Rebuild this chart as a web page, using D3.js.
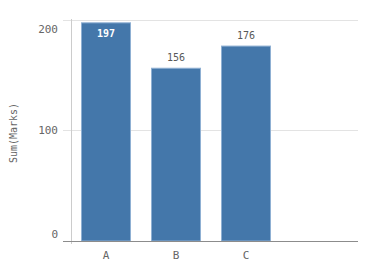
<!DOCTYPE html>
<meta charset="UTF-8">
<style>
body { margin: 0; background: #fff; }
text { font-family: "DejaVu Sans Mono", monospace; font-size: 10px; fill: #666; }
.grid line { stroke: #e3e3e3; }
</style>
<body>
<div class="chart"></div>
<script src="https://d3js.org/d3.v7.min.js"></script>
<script>
var categories = ["A", "B", "C"];
var marks = [197, 156, 176];
var yTicks = [0, 100, 200];

var width = 382, height = 280;
var svg = d3.select(".chart").append("svg")
  .attr("width", width).attr("height", height);

var y = d3.scaleLinear().domain([0, 200]).range([241, 19.5]);
var x = d3.scaleBand().domain(categories).range([71, 281])
  .paddingInner(0.3).paddingOuter(0.15);

// gridlines
svg.append("g").attr("class", "grid")
  .selectAll("line").data(yTicks.slice(1)).enter().append("line")
  .attr("x1", 63).attr("x2", 358)
  .attr("y1", function (d) { return Math.round(y(d)) + 0.5; })
  .attr("y2", function (d) { return Math.round(y(d)) + 0.5; });

// y axis line
svg.append("line")
  .attr("x1", 71.5).attr("x2", 71.5).attr("y1", 19).attr("y2", 244)
  .attr("stroke", "#cccccc");

// tick labels: end labels are nudged inside the plot
svg.append("g").selectAll("text").data(yTicks).enter().append("text")
  .attr("x", 58)
  .attr("y", function (d, i) {
    if (i === 0) return y(d) - 3;
    if (i === yTicks.length - 1) return y(d) + 13;
    return y(d) + 4;
  })
  .attr("text-anchor", "end")
  .style("font-size", "11px")
  .text(function (d) { return d; });

svg.append("text")
  .attr("transform", "translate(17,133) rotate(-90)")
  .attr("text-anchor", "middle")
  .style("font-size", "10px")
  .text("Sum(Marks)");

// bars
svg.append("g").selectAll("rect").data(marks).enter().append("rect")
  .attr("x", function (d, i) { return x(categories[i]); })
  .attr("width", x.bandwidth())
  .attr("y", function (d) { return y(d); })
  .attr("height", function (d) { return y(0) - y(d); })
  .attr("fill", "#4477aa")
  .attr("stroke", "#8fb0d3")
  .attr("stroke-width", 1);

// baseline
svg.append("line")
  .attr("x1", 63).attr("x2", 358).attr("y1", 241.5).attr("y2", 241.5)
  .attr("stroke", "#8c8c8c");

// x labels
svg.append("g").selectAll("text").data(categories).enter().append("text")
  .attr("x", function (d) { return x(d) + x.bandwidth() / 2; })
  .attr("y", 259)
  .attr("text-anchor", "middle")
  .style("font-size", "11px")
  .text(function (d) { return d; });

// value labels (inside the bar when there is no room above)
function inside(d) { return y(d) < 30; }
svg.append("g").selectAll("text").data(marks).enter().append("text")
  .attr("x", function (d, i) { return x(categories[i]) + x.bandwidth() / 2; })
  .attr("y", function (d) { return inside(d) ? y(d) + 14 : y(d) - 7; })
  .attr("text-anchor", "middle")
  .style("fill", function (d) { return inside(d) ? "#fff" : "#595959"; })
  .style("font-weight", function (d) { return inside(d) ? "bold" : "normal"; })
  .text(function (d) { return d; });
</script>
</body>
